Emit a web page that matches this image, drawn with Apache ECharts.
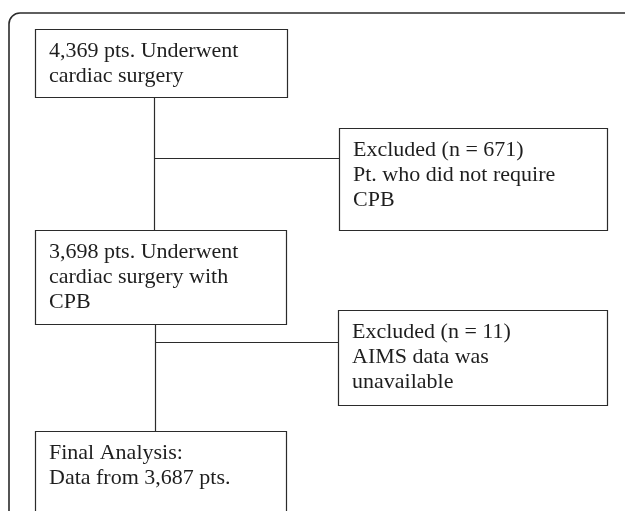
<!DOCTYPE html>
<html>
<head>
<meta charset="utf-8">
<script src="https://cdn.jsdelivr.net/npm/echarts@6/dist/echarts.min.js"></script>
<style>
html, body { margin: 0; padding: 0; background: #fff; }
#main { width: 625px; height: 511px; }
</style>
</head>
<body>
<div id="main"></div>
<script>
// flow steps (main column) and exclusions (side column)
var mainSteps = [
	"4,369 pts. Underwent\ncardiac surgery",
	"3,698 pts. Underwent\ncardiac surgery with\nCPB",
	"Final Analysis:\nData from 3,687 pts."
];
var exclusions = [
	"Excluded (n = 671)\nPt. who did not require\nCPB",
	"Excluded (n = 11)\nAIMS data was\nunavailable"
];

// layout (pixels)
var mainBoxes = [
	{x: 35, y: 29, w: 252, h: 68},
	{x: 35, y: 230, w: 251, h: 94},
	{x: 35, y: 431, w: 251, h: 110}
];
var sideBoxes = [
	{x: 339, y: 128, w: 268, h: 102},
	{x: 338, y: 310, w: 269, h: 95}
];
var stemX = [154, 155];
var branchY = [158, 342];

var lineColor = "#2b2b2b";
var fontFamily = "'Liberation Serif', 'Times New Roman', serif";

var elements = [];

// outer rounded frame (cropped on right and bottom)
elements.push({
	type: 'rect',
	shape: {x: 9, y: 13, width: 650, height: 540, r: 11},
	style: {fill: null, stroke: lineColor, lineWidth: 1.6}
});

function addBox(b, txt){
	elements.push({
		type: 'rect',
		shape: {x: b.x + 0.5, y: b.y + 0.5, width: b.w, height: b.h},
		style: {fill: '#fff', stroke: lineColor, lineWidth: 1.2}
	});
	elements.push({
		type: 'text',
		x: b.x + 14,
		y: b.y + 10,
		style: {
			text: txt,
			fill: "#1e1e1e",
			font: "22px " + fontFamily,
			lineHeight: 25,
			verticalAlign: 'top',
			align: 'left'
		}
	});
}

// connectors
for(var i = 0; i < exclusions.length; i++){
	var upBox = mainBoxes[i];
	var downBox = mainBoxes[i + 1];
	elements.push({
		type: 'line',
		shape: {x1: stemX[i] + 0.5, y1: upBox.y + upBox.h, x2: stemX[i] + 0.5, y2: downBox.y},
		style: {stroke: lineColor, lineWidth: 1.2}
	});
	elements.push({
		type: 'line',
		shape: {x1: stemX[i] + 0.5, y1: branchY[i] + 0.5, x2: sideBoxes[i].x, y2: branchY[i] + 0.5},
		style: {stroke: lineColor, lineWidth: 1.2}
	});
}

for(var i = 0; i < mainSteps.length; i++){
	addBox(mainBoxes[i], mainSteps[i]);
}
for(var i = 0; i < exclusions.length; i++){
	addBox(sideBoxes[i], exclusions[i]);
}

var theChart = echarts.init(document.getElementById('main'));
theChart.setOption({
	backgroundColor: '#fff',
	animation: false,
	graphic: {elements: elements}
});
</script>
</body>
</html>
